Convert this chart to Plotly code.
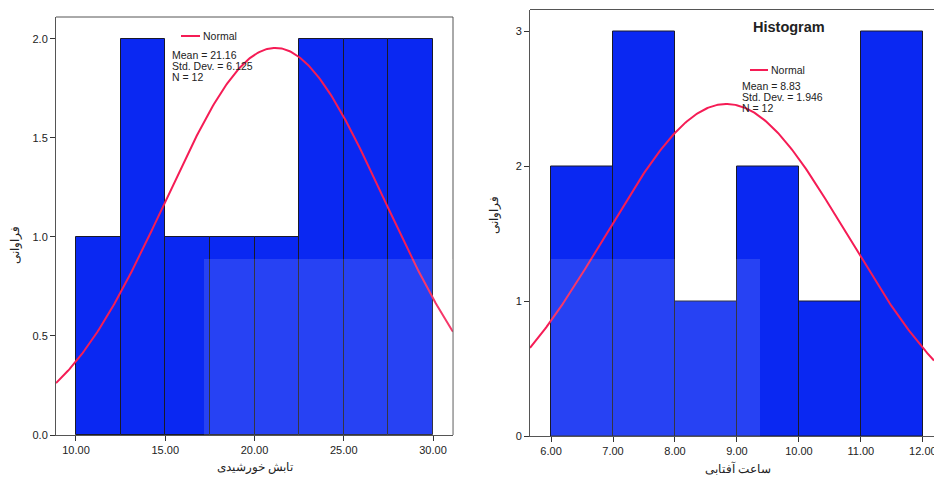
import numpy as np
import plotly.graph_objects as go

W, H = 934, 479

# ---- data ----
left_bin_starts = [10.0, 12.5, 15.0, 17.5, 20.0, 22.5, 25.0, 27.5]
left_counts = [1, 2, 1, 1, 1, 2, 2, 2]
left_bin_width = 2.5
left_mean, left_std, left_n = 21.16, 6.125, 12
left_xticks = [10, 15, 20, 25, 30]
left_xticklabels = ["10.00", "15.00", "20.00", "25.00", "30.00"]
left_yticks = [0, 0.5, 1.0, 1.5, 2.0]
left_yticklabels = ["0.0", "0.5", "1.0", "1.5", "2.0"]

right_bin_starts = [6, 7, 8, 9, 10, 11]
right_counts = [2, 3, 1, 2, 1, 3]
right_bin_width = 1.0
right_mean, right_std, right_n = 8.83, 1.946, 12
right_xticks = [6, 7, 8, 9, 10, 11, 12]
right_xticklabels = ["6.00", "7.00", "8.00", "9.00", "10.00", "11.00", "12.00"]
right_yticks = [0, 1, 2, 3]
right_yticklabels = ["0", "1", "2", "3"]

left_xtitle = "تابش خورشیدی"
right_xtitle = "ساعت آفتابی"
ytitle = "فراوانی"

BAR = "#0a28f2"
CURVE = "#f51c55"
FONT = "Liberation Sans, Arial, sans-serif"

def fx(px):
    return px / W
def fy(py):
    return (H - py) / H

L_dom_x = [fx(56), fx(453)]
L_dom_y = [fy(435), fy(17)]
R_dom_x = [fx(530), 1.0]
R_dom_y = [fy(436), fy(9.5)]
L_xr = [8.88, 31.12]
L_yr = [0, 2.11]
R_xr = [5.66, 12.18]
R_yr = [0, 3.16]

fig = go.Figure()

def add_hist(starts, counts, bw, mean, sd, n, xr, xa, ya):
    centers = [s + bw / 2 for s in starts]
    fig.add_trace(go.Bar(x=centers, y=counts, width=bw,
                         marker=dict(color=BAR, line=dict(color="#1a1a2a", width=1)),
                         xaxis=xa, yaxis=ya, showlegend=False, hoverinfo="skip"))
    xs = np.linspace(xr[0], xr[1], 300)
    ys = n * bw / (sd * np.sqrt(2 * np.pi)) * np.exp(-0.5 * ((xs - mean) / sd) ** 2)
    fig.add_trace(go.Scatter(x=xs, y=ys, mode="lines",
                             line=dict(color=CURVE, width=2),
                             xaxis=xa, yaxis=ya, showlegend=False, hoverinfo="skip"))

add_hist(left_bin_starts, left_counts, left_bin_width, left_mean, left_std, left_n, L_xr, "x", "y")
add_hist(right_bin_starts, right_counts, right_bin_width, right_mean, right_std, right_n, R_xr, "x2", "y2")

axis_common = dict(showgrid=False, zeroline=False, showline=True, linecolor="#555555",
                   linewidth=1, ticks="outside", ticklen=5, tickcolor="#333333",
                   automargin=False, ticklabeloverflow="allow",
                   tickfont=dict(family=FONT, size=11, color="#222222"))

fig.update_layout(
    width=W, height=H, margin=dict(l=0, r=0, t=0, b=0, autoexpand=False),
    paper_bgcolor="white", plot_bgcolor="white", bargap=0,
    font=dict(family=FONT),
    xaxis=dict(domain=L_dom_x, range=L_xr, anchor="y", tickvals=left_xticks,
               ticktext=left_xticklabels, **axis_common),
    yaxis=dict(domain=L_dom_y, range=L_yr, anchor="x", tickvals=left_yticks,
               ticktext=left_yticklabels, **axis_common),
    xaxis2=dict(domain=R_dom_x, range=R_xr, anchor="y2", tickvals=right_xticks,
                ticktext=right_xticklabels, **axis_common),
    yaxis2=dict(domain=R_dom_y, range=R_yr, anchor="x2", tickvals=right_yticks,
                ticktext=right_yticklabels, **axis_common),
)

shapes = []
shapes.append(dict(type="line", xref="paper", yref="paper", x0=L_dom_x[0], x1=L_dom_x[1],
                   y0=L_dom_y[1], y1=L_dom_y[1], line=dict(color="#555555", width=1)))
shapes.append(dict(type="line", xref="paper", yref="paper", x0=L_dom_x[1], x1=L_dom_x[1],
                   y0=L_dom_y[0], y1=L_dom_y[1], line=dict(color="#555555", width=1)))
shapes.append(dict(type="line", xref="paper", yref="paper", x0=R_dom_x[0], x1=1.0,
                   y0=R_dom_y[1], y1=R_dom_y[1], line=dict(color="#555555", width=1)))
# watermark translucent rectangles
shapes.append(dict(type="rect", xref="paper", yref="paper", x0=fx(204), x1=fx(453),
                   y0=fy(435), y1=fy(259), fillcolor="rgba(255,255,255,0.12)", line=dict(width=0),
                   layer="above"))
shapes.append(dict(type="rect", xref="paper", yref="paper", x0=fx(551), x1=fx(760),
                   y0=fy(436), y1=fy(259), fillcolor="rgba(255,255,255,0.12)", line=dict(width=0),
                   layer="above"))
# legend line samples
shapes.append(dict(type="line", xref="paper", yref="paper", x0=fx(181), x1=fx(200),
                   y0=fy(36), y1=fy(36), line=dict(color=CURVE, width=2)))
shapes.append(dict(type="line", xref="paper", yref="paper", x0=fx(750), x1=fx(768),
                   y0=fy(70), y1=fy(70), line=dict(color=CURVE, width=2)))
fig.update_layout(shapes=shapes)

ann = []
def txt(x, y, t, size=10, xanchor="left", bold=False, angle=0):
    ann.append(dict(xref="paper", yref="paper", x=fx(x), y=fy(y), text=("<b>%s</b>" % t) if bold else t,
                    showarrow=False, xanchor=xanchor, yanchor="middle", textangle=angle,
                    align="left", font=dict(family=FONT, size=size, color="#222222")))

txt(201, 36, "Normal", 10.5)
txt(170, 55, "Mean = %.2f" % left_mean, 10.5)
txt(170, 66, "Std. Dev. = %.3f" % left_std, 10.5)
txt(170, 77, "N = %d" % left_n, 10.5)
txt(769, 70, "Normal", 10.5)
txt(740, 86, "Mean = %.2f" % right_mean, 10.5)
txt(740, 97, "Std. Dev. = %.3f" % right_std, 10.5)
txt(740, 108, "N = %d" % right_n, 10.5)
txt(789, 27, "Histogram", 14.5, xanchor="center", bold=True)
txt(255, 467, left_xtitle, 12, xanchor="center")
txt(738, 468, right_xtitle, 12, xanchor="center")
txt(15, 245, ytitle, 12, xanchor="center", angle=-90)
txt(494, 215, ytitle, 12, xanchor="center", angle=-90)
fig.update_layout(annotations=ann)

fig.write_html("out.html", config={"displayModeBar": False},
               post_script="document.body.style.margin='0px';document.body.style.overflow='hidden';")
